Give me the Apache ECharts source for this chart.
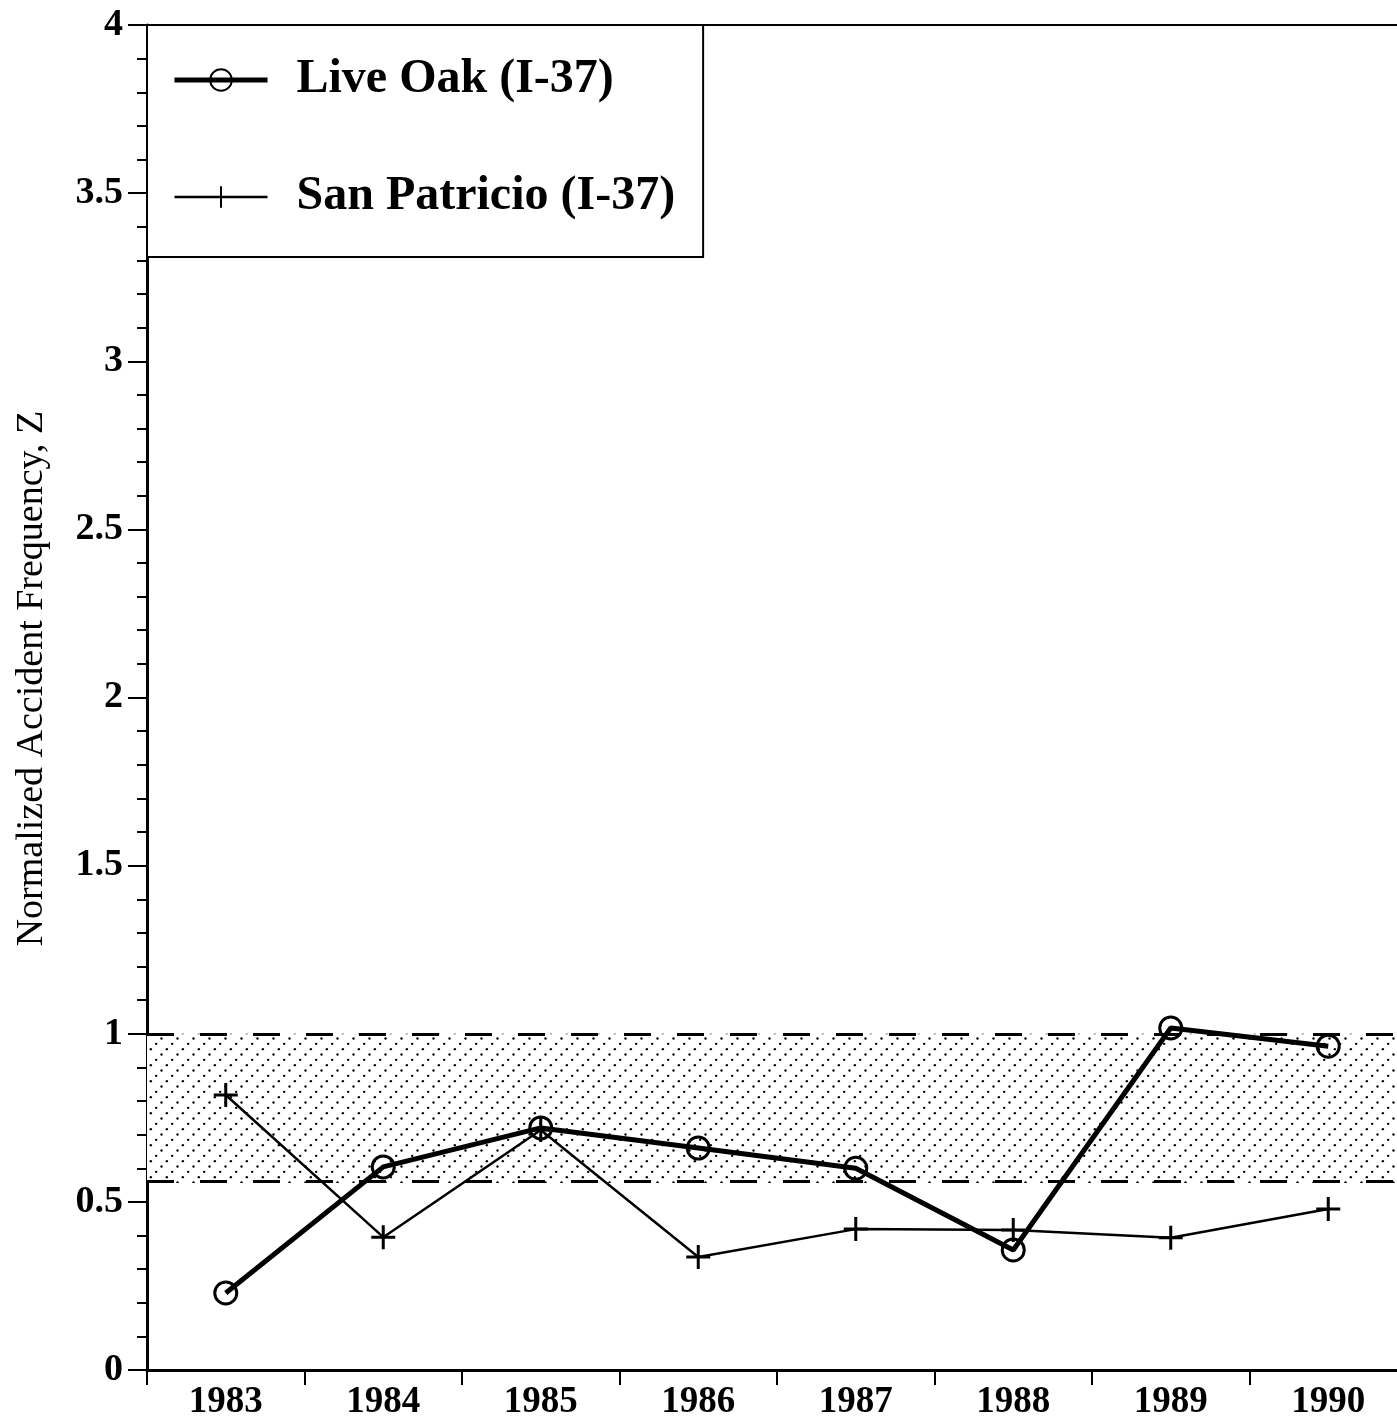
<!DOCTYPE html>
<html>
<head>
<meta charset="utf-8">
<script src="https://cdn.jsdelivr.net/npm/echarts@6/dist/echarts.min.js"></script>
<style>
html,body{margin:0;padding:0;background:#fff;}
#chart{width:1397px;height:1427px;}
</style>
</head>
<body>
<div id="chart"></div>
<script>
const years = ['1983','1984','1985','1986','1987','1988','1989','1990'];
const liveOak = [0.229, 0.604, 0.72, 0.66, 0.60, 0.357, 1.017, 0.963];
const sanPatricio = [0.818, 0.395, 0.714, 0.336, 0.419, 0.416, 0.393, 0.479];
const bandUpper = 1.0;
const bandLower = 0.556;
const yTicks = { min: 0, max: 4, interval: 0.5 };

// dotted diagonal hatch pattern
const T = 16;
const tile = document.createElement('canvas');
tile.width = T; tile.height = T;
const tctx = tile.getContext('2d');
tctx.fillStyle = '#fff';
tctx.fillRect(0, 0, T, T);
tctx.fillStyle = '#000';
for (let i = 0; i < 3; i++) {
  const x = i * T / 3 + 1.5;
  const y = T - i * T / 3 - 1.5;
  tctx.beginPath();
  tctx.arc(x, y, 1.2, 0, Math.PI * 2);
  tctx.fill();
}

const serif = '"Liberation Serif", "Times New Roman", serif';
const chart = echarts.init(document.getElementById('chart'), null, { renderer: 'canvas' });

chart.setOption({
  animation: false,
  backgroundColor: '#fff',
  grid: {
    left: 147, top: 25, width: 1260, height: 1345,
    outerBoundsMode: 'none',
    containLabel: false,
    show: false
  },
  legend: {
    data: [
      { name: 'Live Oak (I-37)', lineStyle: { width: 5, color: '#000' } },
      { name: 'San Patricio (I-37)', lineStyle: { width: 2.5, color: '#000' } }
    ],
    orient: 'vertical',
    left: 147, top: 25,
    padding: [31, 28, 36, 25],
    borderColor: '#000', borderWidth: 2,
    backgroundColor: '#fff',
    itemWidth: 93, itemHeight: 27, itemGap: 69,
    textStyle: { fontFamily: serif, fontWeight: 'bold', fontSize: 48, lineHeight: 48, color: '#000', padding: [0, 0, 0, 24] }
  },
  xAxis: [
    {
      type: 'category',
      data: years,
      boundaryGap: true,
      axisLine: { lineStyle: { color: '#000', width: 3 } },
      axisTick: { show: true, length: 15, lineStyle: { color: '#000', width: 2 } },
      axisLabel: { fontFamily: serif, fontWeight: 'bold', fontSize: 37, color: '#000', margin: 14 },
      splitLine: { show: false }
    },
    {
      type: 'category',
      data: years,
      position: 'top',
      boundaryGap: true,
      axisLine: { show: true, lineStyle: { color: '#000', width: 2 } },
      axisTick: { show: false },
      axisLabel: { show: false },
      splitLine: { show: false }
    }
  ],
  yAxis: {
    type: 'value',
    min: yTicks.min, max: yTicks.max, interval: yTicks.interval,
    name: 'Normalized Accident Frequency, Z',
    nameLocation: 'middle',
    nameRotate: 90,
    nameGap: 96,
    nameTextStyle: { fontFamily: serif, fontSize: 38, color: '#000', padding: [0, 0, 0, 38] },
    axisLine: { show: true, lineStyle: { color: '#000', width: 3 } },
    axisTick: { show: true, length: 19, lineStyle: { color: '#000', width: 2 } },
    minorTick: { show: true, splitNumber: 5, length: 10, lineStyle: { color: '#000', width: 2 } },
    axisLabel: { fontFamily: serif, fontWeight: 'bold', fontSize: 38, color: '#000', margin: 24 },
    splitLine: { show: false }
  },
  series: [
    {
      name: 'San Patricio (I-37)',
      type: 'line',
      data: sanPatricio,
      z: 3,
      symbol: 'path://M12,0 L12,24 M0,12 L24,12',
      symbolSize: 24,
      lineStyle: { color: '#000', width: 2.5 },
      itemStyle: { color: 'none', borderColor: '#000', borderWidth: 3 },
      markArea: {
        silent: true,
        itemStyle: { color: { image: tile, repeat: 'repeat' } },
        data: [[{ yAxis: bandUpper }, { yAxis: bandLower }]]
      },
      markLine: {
        silent: true,
        symbol: ['none', 'none'],
        label: { show: false },
        lineStyle: { color: '#000', width: 3, type: [27, 26] },
        data: [{ yAxis: bandUpper }, { yAxis: bandLower }]
      }
    },
    {
      name: 'Live Oak (I-37)',
      type: 'line',
      data: liveOak,
      z: 4,
      symbol: 'circle',
      symbolSize: 22,
      lineStyle: { color: '#000', width: 5 },
      itemStyle: { color: 'rgba(0,0,0,0)', borderColor: '#000', borderWidth: 3 }
    }
  ]
});
</script>
</body>
</html>
